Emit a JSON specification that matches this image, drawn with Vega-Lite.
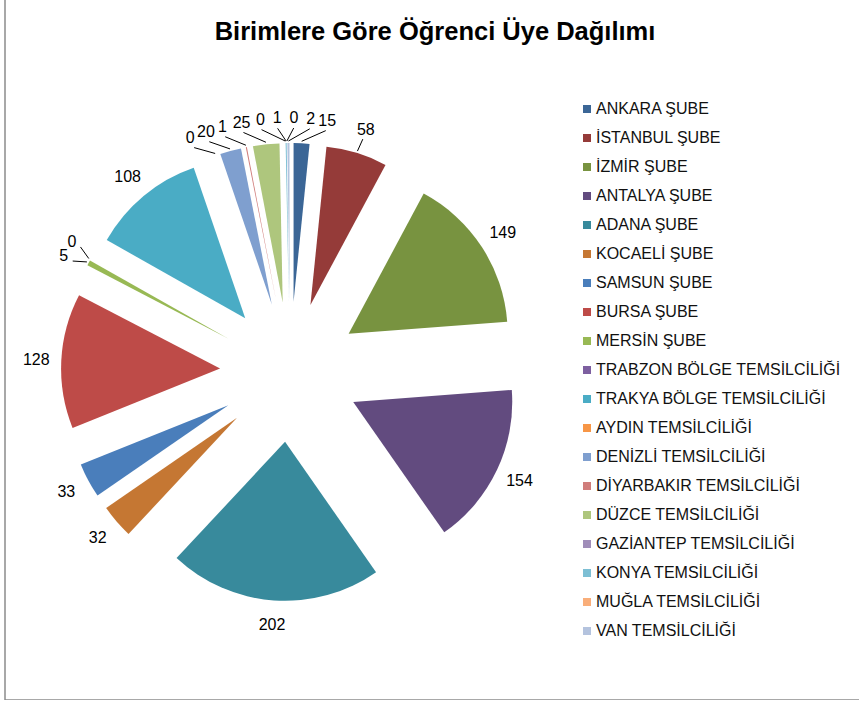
{
  "$schema": "https://vega.github.io/schema/vega-lite/v6.json",
  "width": 860,
  "height": 703,
  "autosize": {"type": "none"},
  "padding": {"left": 5, "top": -3, "right": 0, "bottom": 0},
  "background": "white",
  "config": {"view": {"stroke": "#8c8c8c", "strokeWidth": 1.5}, "font": "Liberation Sans"},
  "title": {
    "text": "Birimlere Göre Öğrenci Üye Dağılımı",
    "font": "Liberation Sans",
    "fontSize": 25.5,
    "fontWeight": "bold",
    "color": "#000000",
    "anchor": "middle",
    "frame": "group",
    "baseline": "alphabetic",
    "offset": -42,
    "dy": 26
  },
  "data": {
    "values": [
      {"unit": "ANKARA ŞUBE", "count": 15},
      {"unit": "İSTANBUL ŞUBE", "count": 58},
      {"unit": "İZMİR ŞUBE", "count": 149},
      {"unit": "ANTALYA ŞUBE", "count": 154},
      {"unit": "ADANA ŞUBE", "count": 202},
      {"unit": "KOCAELİ ŞUBE", "count": 32},
      {"unit": "SAMSUN ŞUBE", "count": 33},
      {"unit": "BURSA ŞUBE", "count": 128},
      {"unit": "MERSİN ŞUBE", "count": 5},
      {"unit": "TRABZON BÖLGE TEMSİLCİLİĞİ", "count": 0},
      {"unit": "TRAKYA BÖLGE TEMSİLCİLİĞİ", "count": 108},
      {"unit": "AYDIN TEMSİLCİLİĞİ", "count": 0},
      {"unit": "DENİZLİ TEMSİLCİLİĞİ", "count": 20},
      {"unit": "DİYARBAKIR TEMSİLCİLİĞİ", "count": 1},
      {"unit": "DÜZCE TEMSİLCİLİĞİ", "count": 25},
      {"unit": "GAZİANTEP TEMSİLCİLİĞİ", "count": 0},
      {"unit": "KONYA TEMSİLCİLİĞİ", "count": 1},
      {"unit": "MUĞLA TEMSİLCİLİĞİ", "count": 0},
      {"unit": "VAN TEMSİLCİLİĞİ", "count": 2}
    ]
  },
  "transform": [
    {"window": [{"op": "sum", "field": "count", "as": "cum"}, {"op": "row_number", "as": "idx"}], "frame": [null, 0]},
    {"joinaggregate": [{"op": "sum", "field": "count", "as": "total"}, {"op": "count", "as": "n"}]},
    {"calculate": "2*PI*datum.cum/datum.total", "as": "a1"},
    {"calculate": "2*PI*(datum.cum-datum.count)/datum.total", "as": "a0"},
    {"calculate": "(datum.a0+datum.a1)/2", "as": "am"},
    {"calculate": "70*sin(datum.am)", "as": "ex"},
    {"calculate": "70*cos(datum.am)", "as": "ey"},
    {"calculate": "datum.am - datum.idx*0.066", "as": "v"},
    {"window": [{"op": "max", "field": "v", "as": "vmax"}], "sort": [{"field": "idx", "order": "ascending"}], "frame": [null, 0]},
    {"window": [{"op": "min", "field": "v", "as": "vmin"}], "sort": [{"field": "idx", "order": "ascending"}], "frame": [0, null]},
    {"calculate": "datum.idx*0.066 + datum.vmax", "as": "fnc"},
    {"calculate": "datum.idx*0.066 + datum.vmin", "as": "bnc"},
    {"joinaggregate": [{"op": "max", "field": "fnc", "as": "fmax"}, {"op": "min", "field": "bnc", "as": "bmin"}]},
    {"calculate": "max(datum.fnc, datum.fmax - 2*PI + datum.idx*0.066)", "as": "fa"},
    {"calculate": "min(datum.bnc, datum.bmin + 2*PI - (datum.n + 1 - datum.idx)*0.066)", "as": "ba"},
    {"calculate": "(datum.fa + datum.ba)/2", "as": "la"},
    {"calculate": "254*sin(datum.la)", "as": "lx"},
    {"calculate": "254*cos(datum.la)", "as": "ly"},
    {"calculate": "231*sin(datum.am)", "as": "px"},
    {"calculate": "231*cos(datum.am)", "as": "py"},
    {"calculate": "244*sin(datum.la)", "as": "qx"},
    {"calculate": "244*cos(datum.la)", "as": "qy"}
  ],
  "layer": [
    {
      "mark": {"type": "arc", "radius": 159, "innerRadius": 0},
      "encoding": {
        "x": {"field": "ex", "type": "quantitative", "scale": {"domain": [-285, 575], "nice": false, "zero": false}, "axis": null},
        "y": {"field": "ey", "type": "quantitative", "scale": {"domain": [-328, 375], "nice": false, "zero": false}, "axis": null},
        "theta": {"field": "a0", "type": "quantitative", "scale": null, "stack": null},
        "theta2": {"field": "a1"},
        "color": {
          "field": "unit",
          "type": "nominal",
          "sort": null,
          "scale": {
            "range": ["#3B6696", "#953B39", "#789340", "#624B7F", "#388A9C", "#C57733", "#4A7EBB", "#BE4B48", "#98B954", "#7D5FA0", "#4AACC5", "#F79646", "#7F9FCF", "#D07D7B", "#AEC67D", "#A08DB9", "#7DBFD4", "#F9AE7A", "#B4C3DE"]
          },
          "legend": {
            "title": null,
            "orient": "none",
            "legendX": 574,
            "legendY": 104,
            "symbolType": "square",
            "symbolSize": 64,
            "symbolStrokeWidth": 0,
            "symbolOpacity": 1,
            "labelFont": "Liberation Sans",
            "labelFontSize": 16,
            "labelColor": "#111111",
            "labelLimit": 400,
            "labelOffset": 1,
            "rowPadding": 13,
            "padding": 0
          }
        }
      }
    },
    {
      "transform": [{"filter": "abs(datum.la - datum.am) > 0.005"}],
      "mark": {"type": "rule", "color": "#000000", "strokeWidth": 1},
      "encoding": {
        "x": {"field": "px", "type": "quantitative"},
        "y": {"field": "py", "type": "quantitative"},
        "x2": {"field": "qx"},
        "y2": {"field": "qy"}
      }
    },
    {
      "mark": {"type": "text", "align": "center", "baseline": "middle", "fontSize": 16, "font": "Liberation Sans", "color": "#000000"},
      "encoding": {
        "x": {"field": "lx", "type": "quantitative"},
        "y": {"field": "ly", "type": "quantitative"},
        "text": {"field": "count", "type": "quantitative"}
      }
    }
  ]
}
